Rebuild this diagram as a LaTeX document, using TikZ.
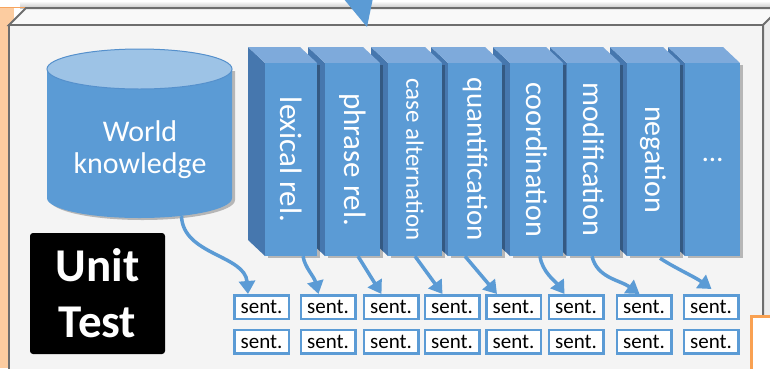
\documentclass[tikz,border=0pt]{standalone}
\usepackage{fontspec}
\setmainfont{Carlito}
\usetikzlibrary{arrows.meta,shadows}
\definecolor{bmain}{HTML}{5B9BD5}
\definecolor{bside}{HTML}{4677AE}
\definecolor{btop}{HTML}{7EAADB}
\definecolor{ctop}{HTML}{9DC3E6}
\definecolor{cedge}{HTML}{5590CC}
\definecolor{frameface}{HTML}{F4F4F4}
\definecolor{frametop}{HTML}{F9F9F9}
\definecolor{frameside}{HTML}{EDEDED}
\definecolor{frameline}{HTML}{6E6E6E}
\definecolor{orfill}{HTML}{FCCCA0}
\definecolor{orline}{HTML}{F7A45E}
\definecolor{orbox}{HTML}{F9A152}
\begin{document}
\begin{tikzpicture}[x=1pt,y=-1pt,
  every node/.style={inner sep=0pt},
  sentbox/.style={draw=bmain, line width=2.5pt, fill=white,
    minimum width=54.5pt, minimum height=23.5pt,
    font=\fontsize{21}{22}\selectfont,
    drop shadow={shadow xshift=1.5pt, shadow yshift=-1.5pt, fill=black, opacity=0.3}},
  arr/.style={draw=bmain, line width=3.5pt, -{Triangle[length=13pt,width=16pt]}},
  bookface/.style={fill=bmain, minimum height=193pt,
    drop shadow={shadow xshift=3pt, shadow yshift=-2pt, fill=black, opacity=0.25}},
  booklabel/.style={text=white},
  frameln/.style={draw=frameline, line width=2pt},
]
\useasboundingbox (0,0) rectangle (770,368);
\clip (0,0) rectangle (770,368);
\fill[white] (0,0) rectangle (770,368);
% top shadow
\shade[top color=white, bottom color=black!22] (20,1) rectangle (780,8);
% orange shape at left
\fill[orfill] (0,8) rectangle (14,368);
\draw[orline, line width=1.5pt] (0,7.5) -- (26,7.5);
% frame (bevelled box)
\filldraw[frameln, fill=frametop] (9,25) -- (26,8) -- (790,8) -- (763,25) -- cycle;
\filldraw[frameln, fill=frameside] (763,25) -- (790,-2) -- (790,380) -- (763,380) -- cycle;
\filldraw[frameln, fill=frameface] (9,25) rectangle (763,380);
% arrow head from above
\fill[bmain] (343,-2) -- (373,-2) -- (367,27) -- cycle;
% orange box at bottom right
\filldraw[draw=orbox, line width=3pt, fill=white] (751,316) rectangle (800,400);
% cylinder
\fill[bmain, drop shadow={shadow xshift=3pt, shadow yshift=-2pt, fill=black, opacity=0.25}]
  (47,69) -- (47,198) arc[start angle=180, end angle=360, x radius=92.5pt, y radius=20pt] -- (232,69) -- cycle;
\filldraw[fill=ctop, draw=cedge, line width=1pt] (139.5,69) ellipse[x radius=92.5pt, y radius=20pt];
\node[minimum width=185pt, minimum height=169pt] (wk) at (139.5,133.5) {};
\node[text=white, align=center, font=\fontsize{30}{32}\selectfont] (wkt) at (140,150) {World\\knowledge};
% books
\foreach \xl/\xr/\n/\fs/\rot/\t in {685/740/8/29/0/{…}, 627/680/7/30/-90/negation,
  567/620/6/30/-90/modification, 510/563/5/30/-90/coordination,
  448/502/4/29/-90/quantification, 388/442/3/25/-90/case alternation,
  325/380/2/31/-90/phrase rel., 265/317/1/31/-90/lexical rel.}{
  \fill[bside] (\xl-17,47) -- (\xl,63) -- (\xl,256) -- (\xl-17,240) -- cycle;
  \fill[btop] (\xl-17,47) -- (\xr-17,47) -- (\xr,63) -- (\xl,63) -- cycle;
  \node[bookface, minimum width=\xr-\xl] (b\n) at ({(\xl+\xr)/2},159.5) {};
  \node[booklabel, rotate=\rot, font=\fontsize{\fs}{\fs}\selectfont] (t\n) at (b\n) {\t};
}
% sentence boxes
\foreach \i/\x in {1/261.5,2/328,3/391,4/452,5/513.5,6/576,7/644,8/711}{
  \node[sentbox] (s\i) at (\x,307) {sent.};
  \node[sentbox] (r\i) at (\x,341.5) {sent.};
}
% unit test label
\node[fill=black, rounded corners=3pt, minimum width=135pt, minimum height=121pt,
  text=white, align=center, font=\bfseries\fontsize{47}{56}\selectfont] (ut) at (97.5,293.5) {Unit\\Test};
% connectors
\draw[arr] ([xshift=42pt,yshift=2pt]wk.south) .. controls (183,255) and (245,255) .. ([xshift=15pt]s1.north west);
\draw[arr] ([xshift=12pt]b1.south) .. controls (305,268) and (314,276) .. ([xshift=19pt]s2.north west);
\draw[arr] ([xshift=5.5pt]b2.south) -- ([xshift=19pt]s3.north west);
\draw[arr] (b3.south) -- ([xshift=19pt]s4.north west);
\draw[arr] ([xshift=-10pt]b4.south) -- ([xshift=12pt]s5.north west);
\draw[arr] ([xshift=3.5pt]b5.south) .. controls (542,272) and (556,282) .. ([xshift=17pt]s6.north west);
\draw[arr] ([xshift=-1.5pt]b6.south) .. controls (597,278) and (620,280) .. ([xshift=24pt]s7.north west);
\draw[arr] ([xshift=6.5pt,yshift=-2pt]b7.south) .. controls (675,268) and (695,277) .. ([xshift=29pt,yshift=5pt]s8.north west);
\end{tikzpicture}
\end{document}
